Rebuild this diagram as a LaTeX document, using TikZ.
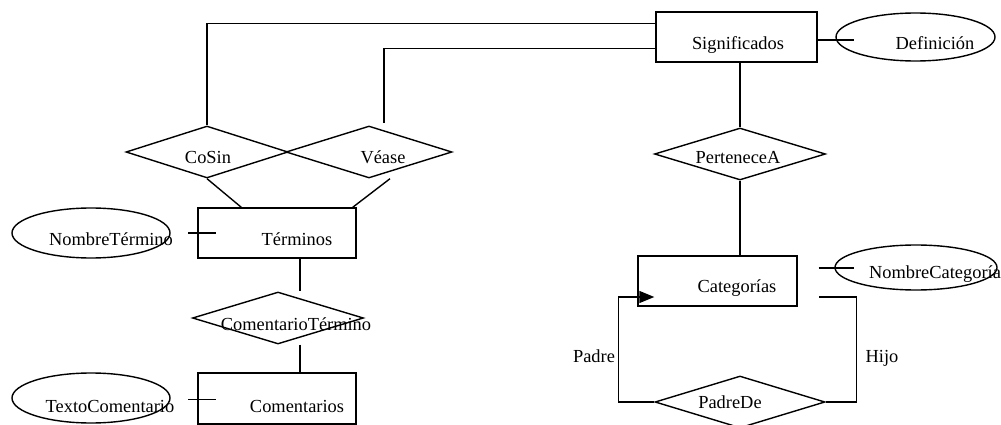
\documentclass[tikz,border=0pt]{standalone}
\usepackage{fontspec}
\setmainfont{Liberation Serif}
\usetikzlibrary{arrows.meta,shapes.geometric,calc}
\tikzset{
  entity/.style={draw, rectangle, inner sep=0pt, line width=1.4pt},
  relship/.style={draw, diamond, inner sep=0pt, line width=1.4pt},
  attrib/.style={draw, ellipse, inner sep=0pt, line width=1.4pt},
  txt/.style={anchor=base, inner sep=0pt, font=\fontsize{18.4}{22}\selectfont},
  conn/.style={line width=1.4pt},
  arr/.style={conn, -{Triangle[length=15pt, width=12pt]}},
}
\begin{document}
\begin{tikzpicture}[x=1pt, y=-1pt]
  \useasboundingbox (0,0) rectangle (1001,425);
  % entities
  \node[entity, minimum width=161pt, minimum height=50pt] (sig) at (736.5,37) {};
  \node[entity, minimum width=158pt, minimum height=50pt] (term) at (277,233) {};
  \node[entity, minimum width=158pt, minimum height=51pt] (coment) at (277,398.5) {};
  \node[entity, minimum width=159pt, minimum height=50pt] (cat) at (717.5,281) {};
  % relationships
  \node[relship, minimum width=162pt, minimum height=52pt] (cosin) at (207,152) {};
  \node[relship, minimum width=166pt, minimum height=52pt] (vease) at (369,152) {};
  \node[relship, minimum width=171pt, minimum height=52pt] (comterm) at (278,318) {};
  \node[relship, minimum width=171pt, minimum height=52pt] (pert) at (740,154) {};
  \node[relship, minimum width=170pt, minimum height=52pt] (padrede) at (740,402) {};
  % attributes
  \node[attrib, minimum width=159pt, minimum height=48pt] (defn) at (915.5,37) {};
  \node[attrib, minimum width=158pt, minimum height=50pt] (nomterm) at (91,233) {};
  \node[attrib, minimum width=158pt, minimum height=50pt] (txtcom) at (91,398) {};
  \node[attrib, minimum width=162pt, minimum height=45pt] (nomcat) at (916,267.5) {};

  % texts
  \node[txt] (sig-t) at (738,50) {Significados};
  \node[txt] (defn-t) at (935,50) {Definición};
  \node[txt] (cosin-t) at (208,163) {CoSin};
  \node[txt] (vease-t) at (383,163) {Véase};
  \node[txt] (term-t) at (297,245) {Términos};
  \node[txt] (nomterm-t) at (111,245) {NombreTérmino};
  \node[txt] (comterm-t) at (296,330) {ComentarioTérmino};
  \node[txt] (coment-t) at (297,412) {Comentarios};
  \node[txt] (txtcom-t) at (110,412) {TextoComentario};
  \node[txt] (pert-t) at (738,163) {PerteneceA};
  \node[txt] (cat-t) at (737,292) {Categorías};
  \node[txt] (nomcat-t) at (935,278) {NombreCategoría};
  \node[txt] (padrede-t) at (730,408) {PadreDe};
  \node[txt] (padre-t) at (594,362) {Padre};
  \node[txt] (hijo-t) at (882,362) {Hijo};

  % connectors
  \coordinate (vtop) at ($(vease.north)+(15,-2)$);
  \draw[conn] ($(sig.north west)!0.24!(sig.south west)$) -| (cosin.north);
  \draw[conn] ($(sig.north west)!0.72!(sig.south west)$) -| (vtop);
  \draw[conn] (cosin.south) -- ($(term.north west)+(44,0)$);
  \draw[conn] ($(vease.south)+(21,0)$) -- ($(term.north east)+(-4,0)$);
  \draw[conn] ($(term.west)+(-9,0)$) -- ($(term.west)+(19,0)$);
  \draw[conn] ($(term.south)+(23,0)$) -- ($(comterm.north)+(22,0)$);
  \draw[conn] ($(comterm.south)+(22,0)$) -- ($(coment.north)+(23,0)$);
  \draw[conn] ($(coment.west)+(-9,1)$) -- ($(coment.west)+(19,1)$);
  \draw[conn] (sig.east) ++(0,3) -- ++(36,0);
  \draw[conn] (sig.south -| pert.north) -- (pert.north);
  \draw[conn] (pert.south) -- (pert.south |- cat.north);
  \draw[conn] ($(cat.east)+(21,-13)$) -- ++(35,0);
  \draw[arr] (padrede.west) -- ++(-36,0) |- ($(cat.west)+(17,16)$);
  \draw[conn] (padrede.east) -- ++(31,0) |- ($(cat.east)+(21,16)$);
\end{tikzpicture}
\end{document}
